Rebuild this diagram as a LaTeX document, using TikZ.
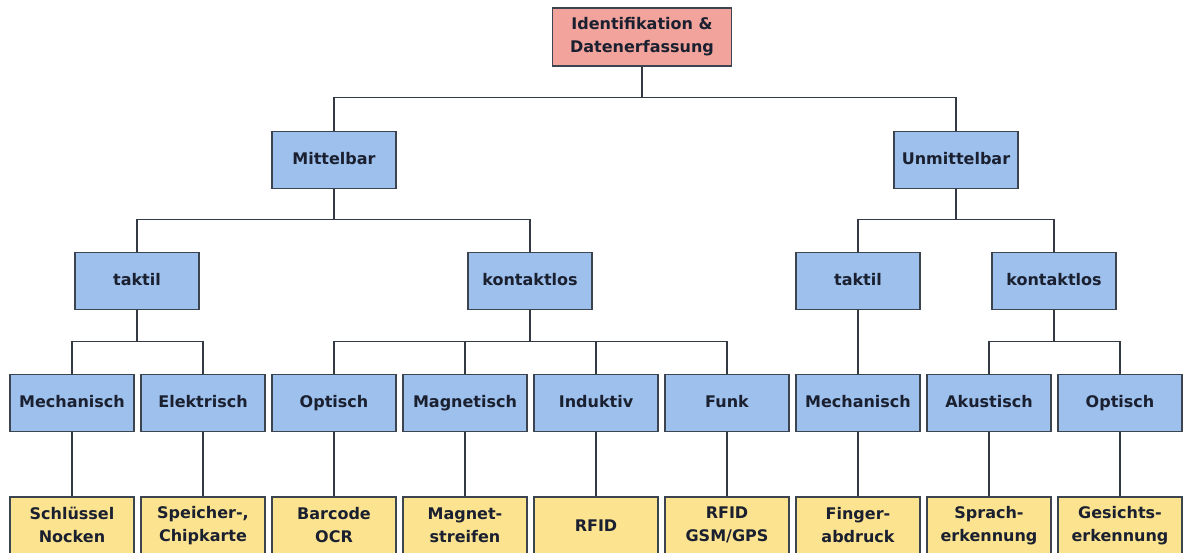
\documentclass[tikz,border=0pt]{standalone}
\usepackage{fontspec}
\setmainfont{DejaVu Sans}
\usepackage{xcolor}
\definecolor{colorRoot}{HTML}{F2A39B}
\definecolor{colorGroup}{HTML}{9EC0EC}
\definecolor{colorLeaf}{HTML}{FCE38F}
\definecolor{colorFrame}{HTML}{3C4450}
\definecolor{colorText}{HTML}{1A2030}
\usepackage{tikz}
\usetikzlibrary{positioning}
\tikzset{
  box/.style={draw=colorFrame, line width=1.4pt, text=colorText, align=center, inner sep=0pt,
    font=\fontsize{16}{23}\selectfont\bfseries, minimum width=124pt, minimum height=57pt},
  rootbox/.style={box, fill=colorRoot, minimum width=179pt, minimum height=58pt},
  groupbox/.style={box, fill=colorGroup, text height=11.5pt, text depth=3.5pt},
  leafbox/.style={box, fill=colorLeaf},
  link/.style={draw=colorFrame!85!black, line width=1.3pt}
}

\begin{document}
\begin{tikzpicture}[x=1pt, y=-1pt]
\useasboundingbox[fill=white] (0,0) rectangle (1187,552);
% root
\node[rootbox] (root) at (642,37) {Identifikation \&\\Datenerfassung};
% second level
\node[groupbox] (mittelbar) at (334,160) {Mittelbar};
\node[groupbox] (unmittelbar) at (956,160) {Unmittelbar};
% third level
\node[groupbox] (taktilM) at (137,281) {taktil};
\node[groupbox] (kontaktlosM) at (530,281) {kontaktlos};
\node[groupbox] (taktilU) at (858,281) {taktil};
\node[groupbox] (kontaktlosU) at (1054,281) {kontaktlos};
% fourth level
\node[groupbox] (mechanischM) at (72,403) {Mechanisch};
\node[groupbox] (elektrisch) at (203,403) {Elektrisch};
\node[groupbox] (optischM) at (334,403) {Optisch};
\node[groupbox] (magnetisch) at (465,403) {Magnetisch};
\node[groupbox] (induktiv) at (596,403) {Induktiv};
\node[groupbox] (funk) at (727,403) {Funk};
\node[groupbox] (mechanischU) at (858,403) {Mechanisch};
\node[groupbox] (akustisch) at (989,403) {Akustisch};
\node[groupbox] (optischU) at (1120,403) {Optisch};
% leaves
\node[leafbox, below=64pt of mechanischM] (schluessel) {Schlüssel\\Nocken};
\node[leafbox, below=64pt of elektrisch] (speicher) {Speicher-,\\Chipkarte};
\node[leafbox, below=64pt of optischM] (barcode) {Barcode\\OCR};
\node[leafbox, below=64pt of magnetisch] (streifen) {Magnet-\\streifen};
\node[leafbox, below=64pt of induktiv] (rfid) {RFID};
\node[leafbox, below=64pt of funk] (gsm) {RFID\\GSM/GPS};
\node[leafbox, below=64pt of mechanischU] (finger) {Finger-\\abdruck};
\node[leafbox, below=64pt of akustisch] (sprache) {Sprach-\\erkennung};
\node[leafbox, below=64pt of optischU] (gesicht) {Gesichts-\\erkennung};
% connectors
\draw[link] (root.south) -- ++(0,31) -| (mittelbar.north);
\draw[link] (root.south) -- ++(0,31) -| (unmittelbar.north);
\draw[link] (mittelbar.south) -- ++(0,30) -| (taktilM.north);
\draw[link] (mittelbar.south) -- ++(0,30) -| (kontaktlosM.north);
\draw[link] (unmittelbar.south) -- ++(0,30) -| (taktilU.north);
\draw[link] (unmittelbar.south) -- ++(0,30) -| (kontaktlosU.north);
\draw[link] (taktilM.south) -- ++(0,31) -| (mechanischM.north);
\draw[link] (taktilM.south) -- ++(0,31) -| (elektrisch.north);
\draw[link] (kontaktlosM.south) -- ++(0,31) -| (optischM.north);
\draw[link] (kontaktlosM.south) -- ++(0,31) -| (magnetisch.north);
\draw[link] (kontaktlosM.south) -- ++(0,31) -| (induktiv.north);
\draw[link] (kontaktlosM.south) -- ++(0,31) -| (funk.north);
\draw[link] (taktilU.south) -- (mechanischU.north);
\draw[link] (kontaktlosU.south) -- ++(0,31) -| (akustisch.north);
\draw[link] (kontaktlosU.south) -- ++(0,31) -| (optischU.north);
\draw[link] (mechanischM) -- (schluessel);
\draw[link] (elektrisch) -- (speicher);
\draw[link] (optischM) -- (barcode);
\draw[link] (magnetisch) -- (streifen);
\draw[link] (induktiv) -- (rfid);
\draw[link] (funk) -- (gsm);
\draw[link] (mechanischU) -- (finger);
\draw[link] (akustisch) -- (sprache);
\draw[link] (optischU) -- (gesicht);
\end{tikzpicture}
\end{document}
